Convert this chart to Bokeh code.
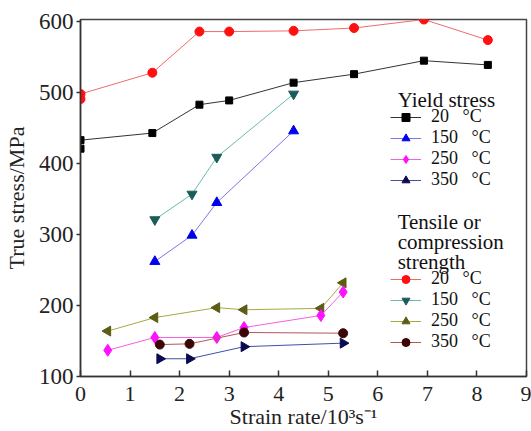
from bokeh.plotting import figure
from bokeh.models import Legend, LegendItem, Label, FixedTicker
from bokeh.embed import file_html
from bokeh.resources import INLINE

FONT = "Liberation Serif"

# Yield stress series
ys20_x = [0, 0, 1.45, 2.4, 3.0, 4.3, 5.52, 6.93, 8.22]
ys20_y = [421, 433, 443, 483, 489, 514, 526, 545, 539]
ys150_x = [1.5, 2.25, 2.75, 4.3]
ys150_y = [262, 299, 345, 446]
ys250_x = [0.55, 1.5, 2.75, 3.3, 4.85, 5.3]
ys250_y = [137, 155, 155, 169, 186, 219]
ys350_x = [1.6, 2.2, 3.3, 5.3]
ys350_y = [125, 125, 142, 147]

# Tensile or compression strength series
ts20_x = [0, 0, 1.45, 2.4, 3.0, 4.3, 5.52, 6.93, 8.22]
ts20_y = [491, 498, 528, 586, 586, 587, 591, 603, 574]
ts150_x = [1.5, 2.25, 2.75, 4.3]
ts150_y = [321, 357, 409, 498]
ts250_x = [0.55, 1.5, 2.75, 3.3, 4.85, 5.3]
ts250_y = [164, 183, 197, 194, 196, 232]
ts350_x = [1.6, 2.2, 3.3, 5.3]
ts350_y = [145, 146, 162, 161]

x_ticks = [0, 1, 2, 3, 4, 5, 6, 7, 8, 9]
y_ticks = [100, 200, 300, 400, 500, 600]
temps = ["20", "150", "250", "350"]

p = figure(width=531, height=431, output_backend="svg", toolbar_location=None,
           x_range=(0, 9), y_range=(100, 603),
           min_border_left=80, min_border_right=5, min_border_top=19, min_border_bottom=55)
p.background_fill_color = "white"
p.border_fill_color = "white"
p.grid.visible = False
p.outline_line_color = "#444444"
p.outline_line_width = 1.5

for ax in (p.xaxis[0], p.yaxis[0]):
    ax.axis_line_color = "#333333"
    ax.axis_line_width = 1.5
    ax.major_tick_line_color = "#333333"
    ax.major_tick_line_width = 1.5
    ax.minor_tick_line_color = None
    ax.major_label_text_font = FONT
    ax.major_label_text_font_size = "22px"
    ax.major_label_text_color = "#222222"
    ax.axis_label_text_font = FONT
    ax.axis_label_text_font_size = "22px"
    ax.axis_label_text_font_style = "normal"
    ax.axis_label_text_color = "#222222"

p.yaxis.major_label_text_font_size = "23px"
p.xaxis.ticker = FixedTicker(ticks=x_ticks)
p.yaxis.ticker = FixedTicker(ticks=y_ticks)
p.xaxis.major_tick_in = 6
p.xaxis.major_tick_out = 0
p.yaxis.major_tick_in = 0
p.yaxis.major_tick_out = 4
p.xaxis.major_label_standoff = 10
p.yaxis.major_label_standoff = 3
p.xaxis.axis_label = "Strain rate/10³s⁻¹"
p.yaxis.axis_label = "True stress/MPa"
p.xaxis.axis_label_standoff = 0
p.yaxis.axis_label_standoff = 7

def series(xs, ys, line_color, marker, fill, size):
    lr = p.line(xs, ys, line_color=line_color, line_width=1)
    sr = p.scatter(xs, ys, marker=marker, size=size, fill_color=fill, line_color=fill)
    return [lr, sr]

r_ts20 = series(ts20_x, ts20_y, "#f06a6a", "circle", "#ff1010", 9)
r_ys20 = series(ys20_x, ys20_y, "#333333", "square", "#000000", 7)
r_ys150 = series(ys150_x, ys150_y, "#7878e8", "triangle", "#0000ee", 10)
r_ts150 = series(ts150_x, ts150_y, "#6ab8b0", "inverted_triangle", "#1c5c58", 10)
r_ts250 = series(ts250_x, ts250_y, "#a8a840", "triangle", "#5c5c14", 10)
r_ts250[1].glyph.angle = 1.5708
r_ys250 = series(ys250_x, ys250_y, "#f060e0", "diamond", "#ff10ff", 12)
r_ts350 = series(ts350_x, ts350_y, "#b05858", "circle", "#3c0606", 9)
r_ys350 = series(ys350_x, ys350_y, "#4050a0", "triangle", "#0a0a50", 10)
r_ys350[1].glyph.angle = -1.5708

def lab(t):
    return t + "\u00a0\u00a0 °C"

def make_legend(labels, rends, loc):
    lg = Legend(items=[LegendItem(label=l, renderers=r) for l, r in zip(labels, rends)],
                location=loc)
    lg.label_text_font = FONT
    lg.label_text_font_size = "18px"
    lg.label_text_color = "#111111"
    lg.glyph_width = 31
    lg.glyph_height = 20
    lg.label_height = 20
    lg.spacing = 0
    lg.padding = 0
    lg.margin = 0
    lg.label_standoff = 10
    lg.border_line_alpha = 0
    lg.background_fill_alpha = 0
    p.add_layout(lg)

make_legend([lab(t) for t in temps], [r_ys20, r_ys150, r_ys250, r_ys350], (310, 186))
make_legend([lab(t) for t in temps], [r_ts20, r_ts150, r_ts250, r_ts350], (310, 24))

for txt, yv in [("Yield stress", 489), ("Tensile or", 318), ("compression", 290), ("strength", 262)]:
    p.add_layout(Label(x=6.4, y=yv, text=txt, text_font=FONT, text_font_size="21px",
                       text_baseline="middle", text_color="#111111"))

open("out.html", "w").write(file_html(p, INLINE))
